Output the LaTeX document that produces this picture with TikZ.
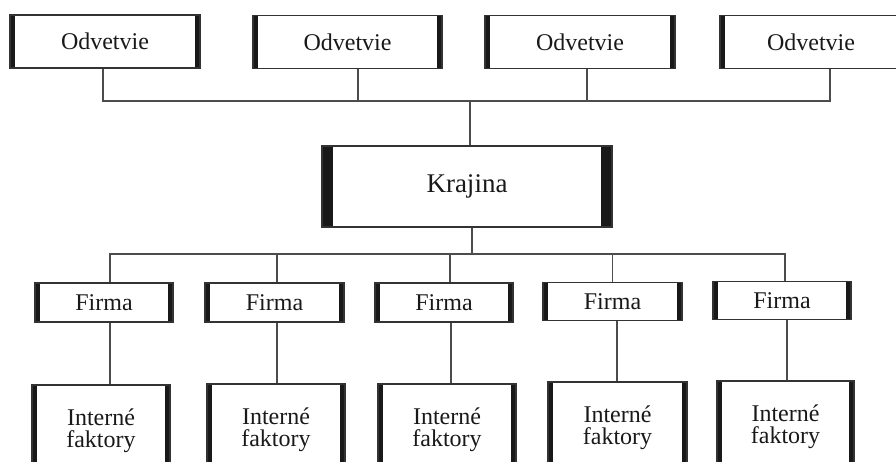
\documentclass[tikz,border=0pt]{standalone}
\usepackage{fontspec}
\setmainfont{Liberation Serif}

\begin{document}
\begin{tikzpicture}[x=1pt,y=-1pt]
\tikzstyle{every node}+=[inner sep=0pt]
\tikzset{
  unit/.style={draw=black!80, line width=1.6pt, text=black!90, align=center,
    font=\fontsize{24}{22}\selectfont},
  bars/.style={path picture={
    \fill [black!90] (path picture bounding box.north west) rectangle ([xshift=#1]path picture bounding box.south west);
    \fill [black!90] (path picture bounding box.north east) rectangle ([xshift=-#1]path picture bounding box.south east);}},
  link/.style={draw=black!70, line width=1.2pt}
}
\clip (0,0) rectangle (896,461);
% odvetvia
\node [unit, bars=5, minimum width=190, minimum height=53] (o1) at (105,41.5) {Odvetvie};
\node [unit, bars=5, minimum width=189, minimum height=53] (o2) at (347.5,42) {Odvetvie};
\node [unit, bars=5, minimum width=190, minimum height=53] (o3) at (580,42) {Odvetvie};
\node [unit, bars=5, minimum width=182, minimum height=53] (o4) at (811,42) {Odvetvie};
% krajina
\node [unit, bars=11, minimum width=290, minimum height=81, font=\fontsize{27}{27}\selectfont] (k) at (467,186.5) {Krajina};
% firmy
\node [unit, bars=5, minimum width=138, minimum height=39] (f1) at (104,302.5) {Firma};
\node [unit, bars=5, minimum width=139, minimum height=39] (f2) at (274.5,302.5) {Firma};
\node [unit, bars=5, minimum width=138, minimum height=39] (f3) at (444,302.5) {Firma};
\node [unit, bars=5, minimum width=139, minimum height=38] (f4) at (612.5,301.5) {Firma};
\node [unit, bars=5, minimum width=138, minimum height=38] (f5) at (782,300.5) {Firma};
% interne faktory
\node [unit, line width=2.4pt, bars=5, minimum width=138, minimum height=92] (i1) at (101,431) {Intern\'e\\faktory};
\node [unit, line width=2.4pt, bars=5, minimum width=138, minimum height=92] (i2) at (276,430) {Intern\'e\\faktory};
\node [unit, line width=2.4pt, bars=5, minimum width=138, minimum height=92] (i3) at (447,430) {Intern\'e\\faktory};
\node [unit, line width=2.4pt, bars=5, minimum width=139, minimum height=92] (i4) at (617.5,428) {Intern\'e\\faktory};
\node [unit, line width=2.4pt, bars=5, minimum width=137, minimum height=92] (i5) at (785.5,427) {Intern\'e\\faktory};
% spojenia
\coordinate (topbus) at (470,101);
\coordinate (lowbus) at (472,254);
\draw [link] ([xshift=-2]o1.south) |- (topbus);
\draw [link] ([xshift=10.5]o2.south) |- (topbus);
\draw [link] ([xshift=7]o3.south) |- (topbus);
\draw [link] ([xshift=19]o4.south) |- (topbus);
\draw [link] (topbus) -- (topbus |- k.north);
\draw [link] (lowbus |- k.south) -- (lowbus);
\draw [link] ([xshift=6]f1.north) |- (lowbus);
\draw [link] ([xshift=2.5]f2.north) |- (lowbus);
\draw [link] ([xshift=6]f3.north) |- (lowbus);
\draw [link] (f4.north) |- (lowbus);
\draw [link] ([xshift=3]f5.north) |- (lowbus);
\draw [link] ([xshift=6]f1.south) -- ([xshift=6]f1.south |- i1.north);
\draw [link] ([xshift=2.5]f2.south) -- ([xshift=2.5]f2.south |- i2.north);
\draw [link] ([xshift=7]f3.south) -- ([xshift=7]f3.south |- i3.north);
\draw [link] ([xshift=4.5]f4.south) -- ([xshift=4.5]f4.south |- i4.north);
\draw [link] ([xshift=5]f5.south) -- ([xshift=5]f5.south |- i5.north);
\end{tikzpicture}
\end{document}
